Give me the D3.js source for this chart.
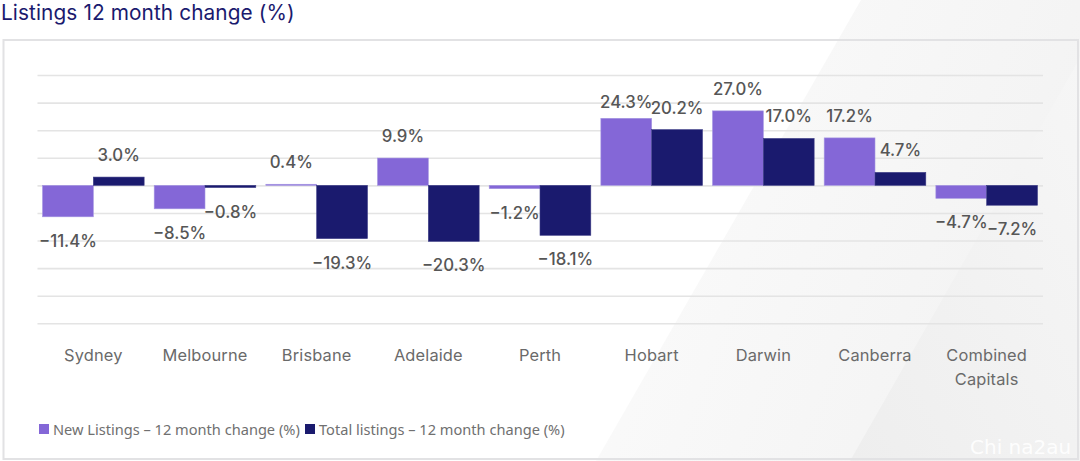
<!DOCTYPE html>
<html><head><meta charset="utf-8">
<script src="https://cdn.jsdelivr.net/npm/d3@7/dist/d3.min.js"></script>
<style>html,body{margin:0;padding:0;background:#fff;overflow:hidden}svg{display:block}</style>
</head><body><svg id="c" width="1080" height="461"></svg>
<script>
const categories = ["Sydney","Melbourne","Brisbane","Adelaide","Perth","Hobart","Darwin","Canberra","Combined Capitals"];
const newListings = [-11.4,-8.5,0.4,9.9,-1.2,24.3,27.0,17.2,-4.7];
const totalListings = [3.0,-0.8,-19.3,-20.3,-18.1,20.2,17.0,4.7,-7.2];
const seriesNames = ["New Listings – 12 month change (%)","Total listings – 12 month change (%)"];
const gridTicks = [-50,-40,-30,-20,-10,0,10,20,30,40];
const titleText = "Listings 12 month change (%)";

const INK="#1a1a6e", PURPLE="#8467d7", GRID="#e4e4e4", LABEL="#565656", AXIS="#6a6a6a";
const HEAD="Inter, Lato, 'Open Sans', sans-serif";
const svg=d3.select("#c");
const defs=svg.append("defs");
const g1=defs.append("linearGradient").attr("id","bgA").attr("x1",0).attr("y1",0).attr("x2",1).attr("y2",.35);
g1.append("stop").attr("offset",0).attr("stop-color","#fcfcfc");
g1.append("stop").attr("offset",1).attr("stop-color","#f3f3f3");
const g2=defs.append("linearGradient").attr("id","bgB").attr("x1",0).attr("y1",1).attr("x2",1).attr("y2",0);
g2.append("stop").attr("offset",0).attr("stop-color","#eeeeee");
g2.append("stop").attr("offset",1).attr("stop-color","#f6f6f6");

svg.append("rect").attr("width",1080).attr("height",461).attr("fill","#fff");
svg.append("polygon").attr("points","861,0 1080,0 1080,461 596,461").attr("fill","url(#bgA)");
svg.append("polygon").attr("points","1080,58 1080,461 850,461").attr("fill","url(#bgB)");
svg.append("rect").attr("x",3.5).attr("y",40).attr("width",1074.5).attr("height",419)
  .attr("fill","none").attr("stroke","#e2e2e4").attr("stroke-width",2);

svg.append("text").attr("x",1).attr("y",20).attr("font-family",HEAD).attr("font-size",20.8)
  .attr("letter-spacing",.1).attr("fill",INK).text(titleText);

const x=d3.scaleBand().domain(categories).range([37.5,1042.5]).paddingInner(0.09).paddingOuter(0.045);
const y=d3.scaleLinear().domain([-50,40]).range([323.3,75]);
const inner=d3.scaleBand().domain([0,1]).range([0,x.bandwidth()]);

const grid=svg.append("g").attr("transform","translate(37.5,0)")
  .call(d3.axisLeft(y).tickValues(gridTicks).tickSize(-1005.5).tickFormat(""));
grid.select(".domain").remove();
grid.selectAll("line").attr("stroke",GRID).attr("stroke-width",1.6);

const series=[newListings,totalListings];
const colors=[PURPLE,INK];
const strokes=["#a596e2","#3d3c86"];
series.forEach((vals,s)=>{
  svg.append("g").selectAll("rect").data(vals).join("rect")
    .attr("x",(d,i)=>x(categories[i])+inner(s))
    .attr("width",inner.bandwidth())
    .attr("y",d=>Math.min(y(d),y(0)))
    .attr("height",d=>Math.abs(y(d)-y(0)))
    .attr("fill",colors[s]).attr("stroke",strokes[s]).attr("stroke-width",.6);
});
const fmt=v=>(v<0?"−":"")+Math.abs(v).toFixed(1)+"%";
series.forEach((vals,s)=>{
  svg.append("g").selectAll("text").data(vals).join("text")
    .attr("x",(d,i)=>x(categories[i])+inner(s)+inner.bandwidth()/2)
    .attr("y",(d,i)=>{
      const off=d<0?30:-16;
      const nudge=(s===0&&i===5)?6:0;
      return y(d)+off+nudge;
    })
    .attr("text-anchor","middle").attr("font-family",HEAD).attr("font-size",16.8).attr("font-weight",500).attr("fill",LABEL)
    .text(fmt);
});

const ax=svg.append("g");
categories.forEach(c=>{
  const words=c==="Combined Capitals"?c.split(" "):[c];
  const t=ax.append("text").attr("text-anchor","middle").attr("font-family",HEAD)
    .attr("font-size",16.4).attr("letter-spacing",.15).attr("fill",AXIS);
  words.forEach((w,i)=>t.append("tspan").attr("x",x(c)+x.bandwidth()/2).attr("y",360.5+i*24.5).text(w));
});

const legendX=[39,305];
seriesNames.forEach((n,i)=>{
  svg.append("rect").attr("x",legendX[i]).attr("y",424).attr("width",10).attr("height",10).attr("fill",colors[i]);
  svg.append("text").attr("x",legendX[i]+14).attr("y",435).attr("font-family","'Noto Sans',sans-serif")
    .attr("font-size",14.6).attr("fill","#707070").text(n);
});
svg.append("text").attr("x",970).attr("y",454).attr("font-family","'DejaVu Sans',sans-serif")
  .attr("font-size",20).attr("fill","#fff").attr("fill-opacity",.9).text("Chi na2au");
</script></body></html>
